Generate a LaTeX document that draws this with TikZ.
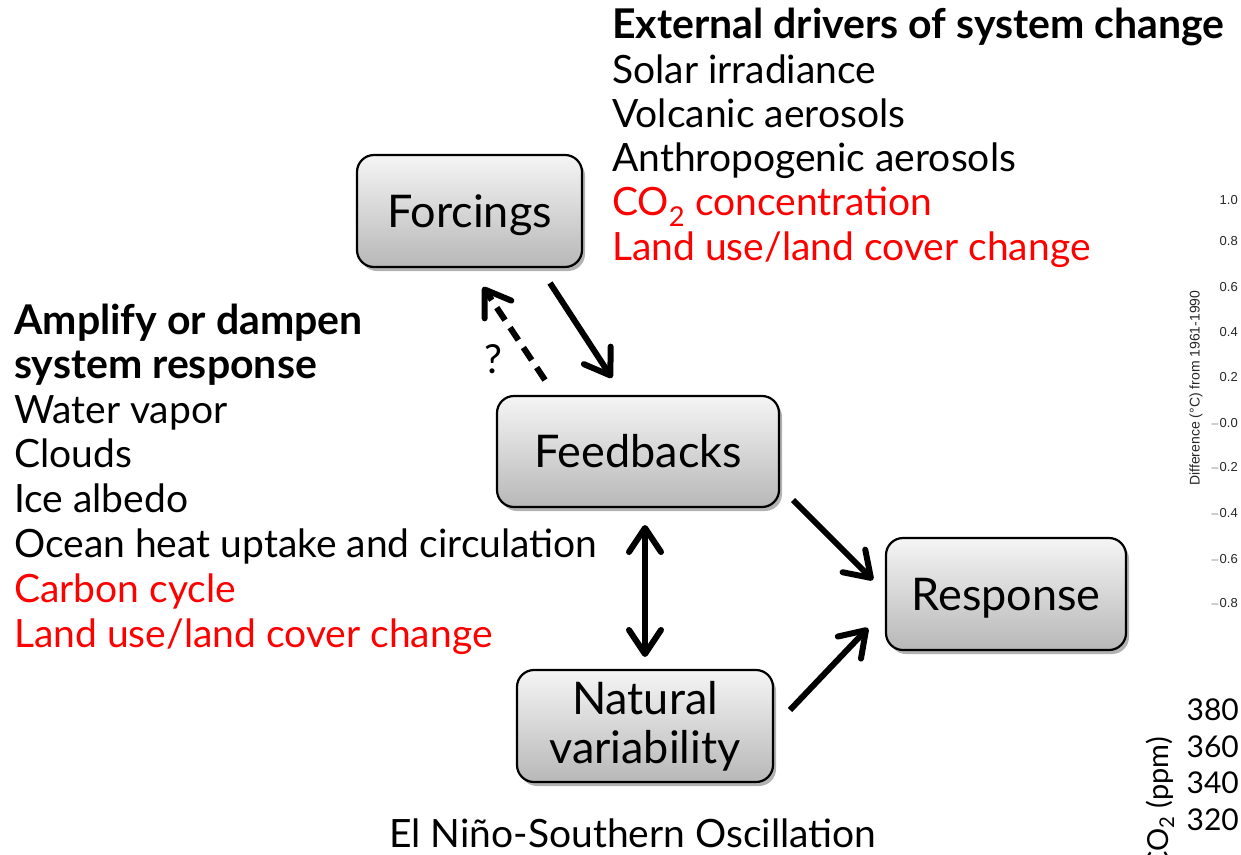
\documentclass[tikz,border=0pt]{standalone}
\usepackage{fontspec}
\setmainfont{Lato}
\newfontfamily\plotfont{Liberation Sans}
\usetikzlibrary{arrows.meta,shadows}
\definecolor{hotred}{RGB}{255,0,0}
\begin{document}
\begin{tikzpicture}[x=1pt,y=-1pt,
  box/.style={draw=black,line width=2.2pt,rounded corners=17pt,
    top color=black!4,bottom color=black!28,
    drop shadow={shadow xshift=3pt,shadow yshift=-4pt,opacity=0.3,fill=black},
    font=\fontsize{45}{49}\selectfont,align=center,inner sep=0pt},
  onel/.style={text height=32pt,text depth=0pt},
  lst/.style={anchor=base west,inner sep=0pt,font=\fontsize{39}{45}\selectfont},
  hdr/.style={anchor=base west,inner sep=0pt,font=\fontsize{41}{45}\selectfont\bfseries},
  hot/.style={text=hotred},
  arr/.style={line width=6pt,-{Straight Barb[round,length=24pt,width=32pt]}},
  dasharr/.style={arr,dash pattern=on 15pt off 9pt},
  dbl/.style={line width=6pt,{Straight Barb[round,length=24pt,width=32pt]}-{Straight Barb[round,length=24pt,width=32pt]}},
  tick/.style={anchor=base east,inner sep=0pt,font=\plotfont\fontsize{13}{15}\selectfont,text=black!85},
  ppm/.style={anchor=base east,inner sep=0pt,font=\fontsize{30}{36}\selectfont}
]
\useasboundingbox (0,0) rectangle (1241,854);

% boxes
\node[box,onel,minimum width=225pt,minimum height=112pt] (forc) at (469.5,211) {Forcings};
\node[box,onel,minimum width=282pt,minimum height=111pt] (feed) at (638,451.5) {Feedbacks};
\node[box,onel,minimum width=240pt,minimum height=112pt] (resp) at (1006,594) {Response};
\node[box,minimum width=256pt,minimum height=112pt] (nat) at (645,726) {Natural\\variability};

% connector end points
\coordinate (c1s) at (550,283);
\coordinate (c1e) at (612,378);
\coordinate (c2s) at (545,380);
\coordinate (c2e) at (483,287);
\coordinate (c3s) at (645,525);
\coordinate (c3e) at (645,657);
\coordinate (c4s) at (793,500);
\coordinate (c4e) at (873,580);
\coordinate (c5s) at (790,710);
\coordinate (c5e) at (868,628);

\draw[arr] (c1s) -- (c1e);
\draw[dasharr] (c2s) -- (c2e);
\draw[dbl] (c3s) -- (c3e);
\draw[arr] (c4s) -- (c4e);
\draw[arr] (c5s) -- (c5e);
\node[inner sep=0pt,font=\fontsize{40}{44}\selectfont] (qm) at (493,359) {?};

% external drivers
\node[hdr] (e0) at (612,38.5) {External drivers of system change};
\node[lst] (e1) at (612,83) {Solar irradiance};
\node[lst] (e2) at (612,127) {Volcanic aerosols};
\node[lst] (e3) at (612,171) {Anthropogenic aerosols};
\node[lst,hot] (e4) at (612,215.5) {CO\textsubscript{2} concentration};
\node[lst,hot] (e5) at (612,260) {Land use/land cover change};

% feedback list
\node[hdr] (a0) at (14,334) {Amplify or dampen};
\node[hdr] (a1) at (14,378.5) {system response};
\node[lst] (a2) at (14,423) {Water vapor};
\node[lst] (a3) at (14,467.5) {Clouds};
\node[lst] (a4) at (14,512) {Ice albedo};
\node[lst] (a5) at (14,557) {Ocean heat uptake and circulation};
\node[lst,hot] (a6) at (14,602) {Carbon cycle};
\node[lst,hot] (a7) at (14,647) {Land use/land cover change};

\node[anchor=base,inner sep=0pt,font=\fontsize{39}{45}\selectfont] (enso) at (633,847) {El Niño-Southern Oscillation};

% fragments of plots at right edge
\node[tick] (t1) at (1238,204.5) {1.0};
\node[tick] (t2) at (1238,245.5) {0.8};
\node[tick] (t3) at (1238,291.5) {0.6};
\node[tick] (t4) at (1238,336.5) {0.4};
\node[tick] (t5) at (1238,381.5) {0.2};
\node[tick] (t6) at (1238,427.5) {$-$0.0};
\node[tick] (t7) at (1238,471.5) {$-$0.2};
\node[tick] (t8) at (1238,517.5) {$-$0.4};
\node[tick] (t9) at (1238,563.5) {$-$0.6};
\node[tick] (t10) at (1238,607.5) {$-$0.8};
\node[inner sep=0pt,rotate=90,font=\plotfont\fontsize{14}{16}\selectfont,text=black!85] (dlab) at (1196,388) {Difference (\textdegree C) from 1961-1990};

\node[ppm] (p1) at (1239,720) {380};
\node[ppm] (p2) at (1239,757) {360};
\node[ppm] (p3) at (1239,793) {340};
\node[ppm] (p4) at (1239,830) {320};
\node[anchor=base east,rotate=90,inner sep=0pt,font=\fontsize{29}{34}\selectfont] (co2lab) at (1168,737) {CO\textsubscript{2} (ppm)};
\end{tikzpicture}
\end{document}
